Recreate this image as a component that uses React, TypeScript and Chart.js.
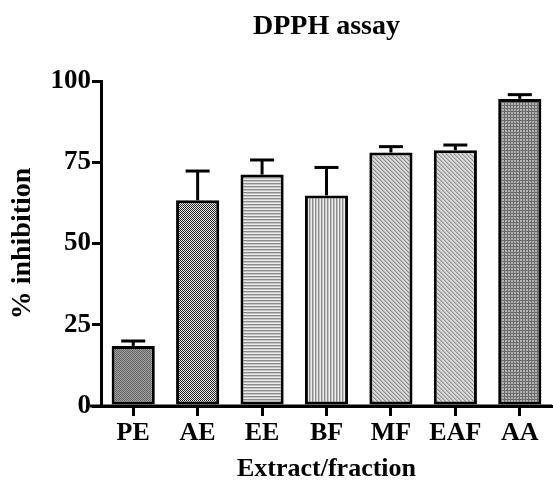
import React, { useEffect, useRef } from "react";
import { Chart, registerables } from "chart.js";

Chart.register(...registerables);

const categories = ["PE", "AE", "EE", "BF", "MF", "EAF", "AA"];
const inhibition = [18.5, 63.3, 71.2, 64.8, 78.0, 78.7, 94.5];
const errorUp = [1.5, 9.0, 4.5, 8.6, 1.8, 1.6, 1.3];
const yTicks = [0, 25, 50, 75, 100];
const chartTitle = "DPPH assay";
const xTitle = "Extract/fraction";
const yTitle = "% inhibition";

const FONT = "'Liberation Serif', 'Times New Roman', serif";

function makePattern(size: number, draw: (ctx: CanvasRenderingContext2D) => void): CanvasPattern | string {
  const c = document.createElement("canvas");
  c.width = size;
  c.height = size;
  const ctx = c.getContext("2d");
  if (!ctx) return "#999";
  draw(ctx);
  const p = ctx.createPattern(c, "repeat");
  return p || "#999";
}

function buildPatterns(): (CanvasPattern | string)[] {
  const px = (ctx: CanvasRenderingContext2D, x: number, y: number, col: string) => {
    ctx.fillStyle = col;
    ctx.fillRect(x, y, 1, 1);
  };
  const pe = makePattern(2, (ctx) => {
    ctx.fillStyle = "#a0a0a0";
    ctx.fillRect(0, 0, 2, 2);
    px(ctx, 0, 0, "#666666");
    px(ctx, 1, 1, "#666666");
  });
  const ae = makePattern(2, (ctx) => {
    ctx.fillStyle = "#f4f4f4";
    ctx.fillRect(0, 0, 2, 2);
    px(ctx, 0, 0, "#1a1a1a");
    px(ctx, 1, 1, "#1a1a1a");
  });
  const ee = makePattern(3, (ctx) => {
    ctx.fillStyle = "#ededed";
    ctx.fillRect(0, 0, 3, 3);
    ctx.fillStyle = "#8c8c8c";
    ctx.fillRect(0, 0, 3, 1);
    ctx.fillStyle = "#c4c4c4";
    ctx.fillRect(0, 1, 3, 1);
  });
  const bf = makePattern(3, (ctx) => {
    ctx.fillStyle = "#ededed";
    ctx.fillRect(0, 0, 3, 3);
    ctx.fillStyle = "#8c8c8c";
    ctx.fillRect(0, 0, 1, 3);
    ctx.fillStyle = "#c4c4c4";
    ctx.fillRect(1, 0, 1, 3);
  });
  const diag = (dark: string, light: string) =>
    makePattern(4, (ctx) => {
      ctx.fillStyle = light;
      ctx.fillRect(0, 0, 4, 4);
      for (let i = 0; i < 4; i++) {
        px(ctx, i, i, dark);
        px(ctx, (i + 1) % 4, i, "#b8b8b8");
      }
    });
  const mf = diag("#8a8a8a", "#d8d8d8");
  const eaf = diag("#909090", "#dcdcdc");
  const aa = makePattern(3, (ctx) => {
    ctx.fillStyle = "#b4b4b4";
    ctx.fillRect(0, 0, 3, 3);
    ctx.fillStyle = "#6a6a6a";
    ctx.fillRect(0, 0, 3, 1);
    ctx.fillRect(0, 0, 1, 3);
  });
  return [pe, ae, ee, bf, mf, eaf, aa];
}

const errorBarPlugin = {
  id: "errorBars",
  afterDatasetsDraw(chart: any) {
    const ctx = chart.ctx;
    const meta = chart.getDatasetMeta(0);
    const yScale = chart.scales.y;
    ctx.save();
    ctx.strokeStyle = "#000";
    ctx.lineWidth = 3;
    ctx.lineCap = "butt";
    meta.data.forEach((bar: any, i: number) => {
      const v = inhibition[i];
      const e = errorUp[i];
      const x = bar.x;
      const yTop = yScale.getPixelForValue(v);
      const yErr = yScale.getPixelForValue(v + e);
      ctx.beginPath();
      ctx.moveTo(x, yTop);
      ctx.lineTo(x, yErr);
      ctx.stroke();
      ctx.beginPath();
      ctx.moveTo(x - 12, yErr);
      ctx.lineTo(x + 12, yErr);
      ctx.stroke();
    });
    ctx.restore();
  },
};

const axisExtendPlugin = {
  id: "axisExtend",
  afterDraw(chart: any) {
    const ctx = chart.ctx;
    const area = chart.chartArea;
    ctx.save();
    ctx.strokeStyle = "#000";
    ctx.lineWidth = 3;
    ctx.beginPath();
    ctx.moveTo(area.left - 11, area.bottom);
    ctx.lineTo(area.right, area.bottom);
    ctx.stroke();
    ctx.restore();
  },
};

export default function App() {
  const ref = useRef<HTMLCanvasElement | null>(null);

  useEffect(() => {
    document.body.style.margin = "0";
    if (!ref.current) return;
    const patterns = buildPatterns();
    const chart = new Chart(ref.current, {
      type: "bar",
      data: {
        labels: categories,
        datasets: [
          {
            data: inhibition,
            backgroundColor: patterns as any,
            borderColor: "#000",
            borderWidth: 3,
            borderSkipped: false,
            barPercentage: 0.67,
            categoryPercentage: 1,
          },
        ],
      },
      options: {
        animation: false,
        responsive: false,
        devicePixelRatio: 1,
        layout: { padding: { left: 0, right: 1, top: 0, bottom: 0 } },
        plugins: {
          legend: { display: false },
          tooltip: { enabled: false },
          title: {
            display: true,
            text: chartTitle,
            color: "#000",
            fullSize: false,
            font: { family: FONT, size: 28, weight: "bold", lineHeight: 1.2 },
            padding: { top: 10, bottom: 37.4 },
          },
        },
        scales: {
          x: {
            type: "category",
            offset: true,
            grid: {
              display: true,
              offset: false,
              drawOnChartArea: false,
              drawTicks: true,
              tickLength: 10,
              color: "#000",
              lineWidth: 3,
            },
            border: { display: true, color: "#000", width: 3 },
            ticks: {
              color: "#000",
              padding: 2,
              maxRotation: 0,
              font: { family: FONT, size: 26, weight: "bold" },
            },
            title: {
              display: true,
              text: xTitle,
              color: "#000",
              font: { family: FONT, size: 26, weight: "bold", lineHeight: 1.0 },
              padding: { top: 0, bottom: 0 },
            },
            afterFit(scale: any) {
              scale.height = 76;
            },
          },
          y: {
            min: 0,
            max: 100,
            afterBuildTicks(scale: any) {
              scale.ticks = yTicks.map((v) => ({ value: v }));
            },
            grid: {
              display: true,
              drawOnChartArea: false,
              drawTicks: true,
              tickLength: 9,
              color: "#000",
              lineWidth: 3,
            },
            border: { display: true, color: "#000", width: 3 },
            ticks: {
              color: "#000",
              padding: 1,
              font: { family: FONT, size: 27, weight: "bold" },
            },
            title: {
              display: true,
              text: yTitle,
              color: "#000",
              font: { family: FONT, size: 28, weight: "bold", lineHeight: 1.2 },
              padding: { top: 6, bottom: 0 },
            },
            afterFit(scale: any) {
              scale.width = 101;
            },
          },
        },
      },
      plugins: [errorBarPlugin, axisExtendPlugin],
    });
    return () => chart.destroy();
  }, []);

  return (
    <div style={{ width: 553, height: 482 }}>
      <canvas ref={ref} width={553} height={482} style={{ width: 553, height: 482, display: "block" }} />
    </div>
  );
}
